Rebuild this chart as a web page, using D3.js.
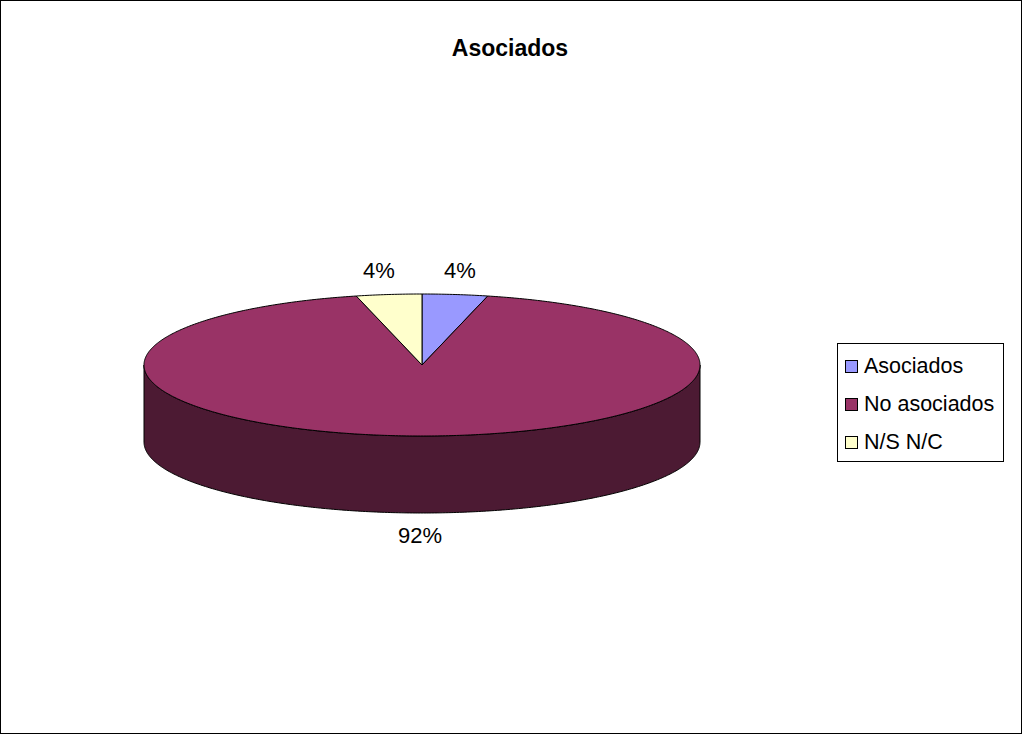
<!DOCTYPE html>
<html>
<head>
<meta charset="utf-8">
<script src="https://cdn.jsdelivr.net/npm/d3@7/dist/d3.min.js"></script>
<style>
  body { margin: 0; background: #fff; }
  text { font-family: "Liberation Sans", Arial, sans-serif; }
</style>
</head>
<body>
<svg id="svg" width="1022" height="734"></svg>
<script>
// chart data
var categories = ["Asociados", "No asociados", "N/S N/C"];
var values = [3.8, 92.4, 3.8];
var labels = ["4%", "92%", "4%"];
var colors = ["#9999FF", "#993366", "#FFFFCC"];
var sideColors = ["#4C4C80", "#4C1A33", "#808066"];

var W = 1022, H = 734;
var cx = 422, cy = 365, rx = 278, ry = 71, depth = 77;

var svg = d3.select("#svg");

// outer frame
svg.append("rect")
  .attr("x", 0.5).attr("y", 0.5)
  .attr("width", W - 1).attr("height", H - 1)
  .attr("fill", "#fff").attr("stroke", "#000").attr("stroke-width", 1);

svg.append("text")
  .attr("x", 510).attr("y", 56)
  .attr("text-anchor", "middle")
  .attr("font-size", 23).attr("font-weight", "bold")
  .text("Asociados");

var pie = d3.pie().sort(null).value(d => d);
var arcs = pie(values);

function pt(a, dy) {
  return [cx + rx * Math.sin(a), cy - ry * Math.cos(a) + (dy || 0)];
}

function arcPoints(a0, a1, dy) {
  var n = Math.max(2, Math.ceil(Math.abs(a1 - a0) / 0.01));
  return d3.range(n + 1).map(i => pt(a0 + (a1 - a0) * i / n, dy));
}

var g = svg.append("g");

// side walls (only the front half is visible)
arcs.forEach(function(d, i) {
  var a0 = Math.max(d.startAngle, Math.PI / 2);
  var a1 = Math.min(d.endAngle, 3 * Math.PI / 2);
  if (a1 <= a0) return;
  var top = arcPoints(a0, a1, 0);
  var bottom = arcPoints(a1, a0, depth);
  var p = d3.path();
  top.forEach((q, k) => k ? p.lineTo(q[0], q[1]) : p.moveTo(q[0], q[1]));
  bottom.forEach(q => p.lineTo(q[0], q[1]));
  p.closePath();
  g.append("path")
    .attr("d", p.toString())
    .attr("fill", sideColors[i])
    .attr("stroke", "#000")
    .attr("stroke-width", 1);
});

// top faces
arcs.forEach(function(d, i) {
  var p = d3.path();
  p.moveTo(cx, cy);
  arcPoints(d.startAngle, d.endAngle, 0).forEach(q => p.lineTo(q[0], q[1]));
  p.closePath();
  g.append("path")
    .attr("d", p.toString())
    .attr("fill", colors[i])
    .attr("stroke", "#000")
    .attr("stroke-width", 1);
});

// percentage labels
var labelPos = [[460, 278], [420, 543], [379, 278]];
arcs.forEach(function(d, i) {
  svg.append("text")
    .attr("x", labelPos[i][0]).attr("y", labelPos[i][1])
    .attr("text-anchor", "middle")
    .attr("font-size", 22)
    .text(labels[i]);
});

// legend
var lg = svg.append("g").attr("transform", "translate(837,343)");
lg.append("rect")
  .attr("x", 0.5).attr("y", 0.5)
  .attr("width", 166).attr("height", 118)
  .attr("fill", "#fff").attr("stroke", "#000");
categories.forEach(function(c, i) {
  var y = 30 + i * 38;
  lg.append("rect")
    .attr("x", 8.5).attr("y", y - 12.5)
    .attr("width", 12).attr("height", 12)
    .attr("fill", colors[i]).attr("stroke", "#000");
  lg.append("text")
    .attr("x", 27).attr("y", y)
    .attr("font-size", 21.5)
    .text(c);
});
</script>
</body>
</html>
